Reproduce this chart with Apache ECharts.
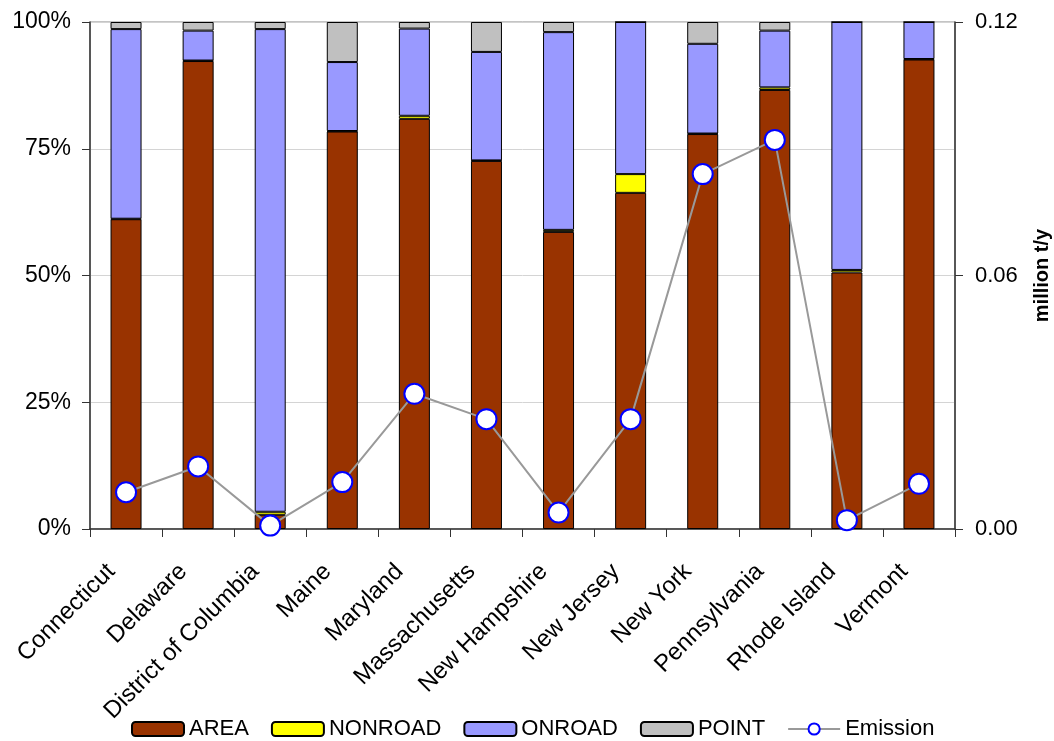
<!DOCTYPE html>
<html><head><meta charset="utf-8">
<script src="https://cdn.jsdelivr.net/npm/echarts@6/dist/echarts.min.js"></script>
<style>html,body{margin:0;padding:0;background:#fff}#c{width:1054px;height:741px}</style>
</head><body><div id="c"></div>
<script>
const states = ['Connecticut','Delaware','District of Columbia','Maine','Maryland','Massachusetts','New Hampshire','New Jersey','New York','Pennsylvania','Rhode Island','Vermont'];
const area    = [61.1, 92.3, 2.8, 78.4, 80.9, 72.6, 58.6, 66.3, 77.9, 86.6, 50.6, 92.6];
const nonroad = [0.1, 0.1, 0.6, 0.1, 0.6, 0.1, 0.4, 3.7, 0.1, 0.5, 0.5, 0.1];
const onroad  = [37.4, 5.9, 95.2, 13.6, 17.2, 21.4, 39.0, 30.0, 17.7, 11.2, 48.9, 7.3];
const point   = [1.4, 1.7, 1.4, 7.9, 1.3, 5.9, 2.0, 0.0, 4.3, 1.7, 0.0, 0.0];
const emission = [0.0087, 0.0148, 0.0008, 0.0111, 0.0320, 0.0260, 0.0039, 0.0260, 0.0840, 0.0921, 0.0021, 0.0107];
const leftTicks = [0, 25, 50, 75, 100];
const rightTicks = [0, 0.06, 0.12];

const font = 'Liberation Sans, Arial, sans-serif';
const chart = echarts.init(document.getElementById('c'));
function bar(name, data, color){
  return {name, type:'bar', stack:'s', data, barWidth:31,
    itemStyle:{color, borderColor:'#000', borderWidth:1}};
}
chart.setOption({
  animation:false,
  textStyle:{fontFamily:font},
  grid:{left:90, right:99, top:22, bottom:212, show:true, borderColor:'#888', borderWidth:1,
        containLabel:false, outerBoundsMode:'none'},
  legend:{top:718, left:131, padding:0, itemWidth:52, itemHeight:14, itemGap:22,
    textStyle:{fontSize:22, color:'#000', fontFamily:font},
    data:['AREA','NONROAD','ONROAD','POINT','Emission']},
  xAxis:{type:'category', data:states, boundaryGap:true,
    axisLine:{lineStyle:{color:'#333', width:1.5}},
    axisTick:{show:true, interval:0, length:8, lineStyle:{color:'#333'}},
    axisLabel:{interval:0, rotate:45, fontSize:24, color:'#000', margin:24, padding:[0,21,0,0], fontFamily:font}},
  yAxis:[
    {type:'value', min:leftTicks[0], max:leftTicks[leftTicks.length-1], interval:leftTicks[1]-leftTicks[0],
     axisLine:{show:true, lineStyle:{color:'#333', width:1.5}},
     axisTick:{show:true, length:8, lineStyle:{color:'#333'}},
     axisLabel:{formatter:'{value}%', fontSize:23, color:'#000', margin:19, fontFamily:font},
     splitLine:{show:true, lineStyle:{color:'#d4d4d4'}}},
    {type:'value', min:rightTicks[0], max:rightTicks[rightTicks.length-1], interval:rightTicks[1]-rightTicks[0],
     position:'right',
     name:'million t/y', nameLocation:'middle', nameRotate:90, nameGap:77,
     nameTextStyle:{fontSize:20, fontWeight:'bold', color:'#000', fontFamily:font},
     axisLine:{show:true, lineStyle:{color:'#333', width:1.5}},
     axisTick:{show:true, length:8, lineStyle:{color:'#333'}},
     axisLabel:{formatter:v=>v.toFixed(2), fontSize:22, color:'#000', margin:20, fontFamily:font},
     splitLine:{show:false}}
  ],
  series:[
    bar('AREA', area, '#993300'),
    bar('NONROAD', nonroad, '#ffff00'),
    bar('ONROAD', onroad, '#9999ff'),
    bar('POINT', point, '#c0c0c0'),
    {name:'Emission', type:'line', yAxisIndex:1, data:emission,
     symbol:'circle', symbolSize:20,
     lineStyle:{color:'#999', width:2},
     itemStyle:{color:'#fff', borderColor:'#0000ff', borderWidth:2}}
  ]
});
</script></body></html>
